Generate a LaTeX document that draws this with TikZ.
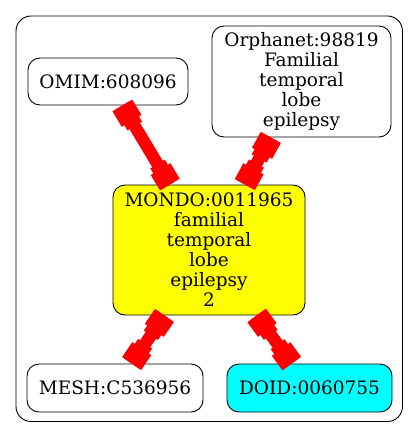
\documentclass[tikz,border=0pt]{standalone}
\usepackage{fontspec}
\setmainfont{DejaVu Serif}
\usetikzlibrary{arrows.meta,positioning}

\definecolor{mondoyellow}{HTML}{FFFF00}
\definecolor{doidcyan}{HTML}{00FFFF}

\tikzset{
  entry/.style={rectangle, draw, rounded corners=12pt, line width=0.9pt, align=center, inner sep=0pt, font=\fontsize{18.5}{20}\selectfont},
  % wide box at each end, with a narrower step behind it
  link/.style={draw=red, line width=12pt,
    preaction={draw=red, line width=12pt, {Square[length=24pt,width=17pt,line width=0pt]}-{Square[length=24pt,width=17pt,line width=0pt]}},
    {Square[length=18pt,width=23pt,line width=0pt]}-{Square[length=18pt,width=23pt,line width=0pt]}}
}

\begin{document}
\begin{tikzpicture}[x=1pt, y=-1pt]
	\useasboundingbox (0,0) rectangle (419,439);
	% cluster
	\draw[rounded corners=15pt, line width=0.9pt] (16,16) rectangle (402.5,421.5);

	\node[entry, minimum width=160pt, minimum height=47pt] (omim) at (108,81.5) {OMIM:608096};
	\node[entry, minimum width=179pt, minimum height=111pt] (orpha) at (301.5,81.5) {Orphanet:98819\\Familial\\temporal\\lobe\\epilepsy};
	\node[entry, fill=mondoyellow, minimum width=192pt, minimum height=130pt] (mondo) at (209,250) {MONDO:0011965\\familial\\temporal\\lobe\\epilepsy\\2};
	\node[entry, minimum width=176pt, minimum height=48pt] (mesh) at (115,388) {MESH:C536956};
	\node[entry, fill=doidcyan, minimum width=165pt, minimum height=48pt] (doid) at (309.5,388) {DOID:0060755};

	\draw[link] (omim) -- (mondo);
	\draw[link] (orpha) -- (mondo);
	\draw[link] (mondo) -- (mesh);
	\draw[link] (mondo) -- (doid);
\end{tikzpicture}
\end{document}
